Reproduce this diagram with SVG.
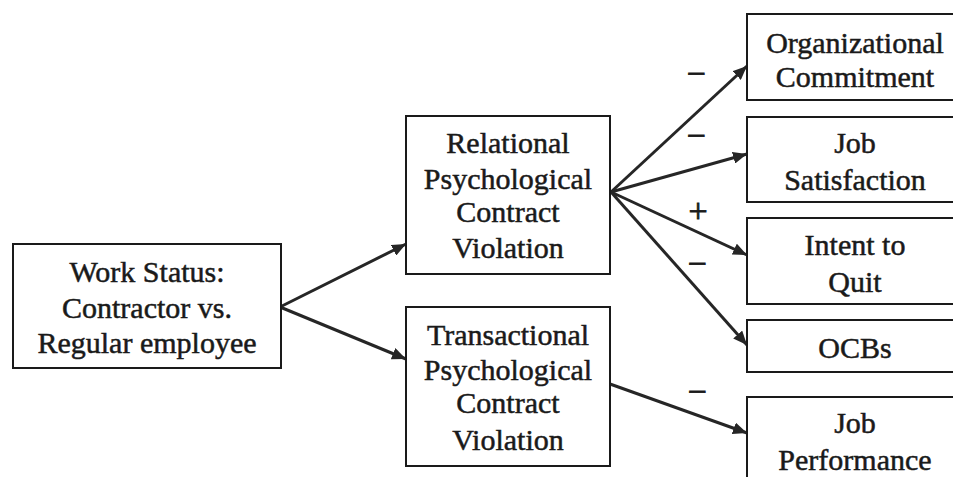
<svg xmlns="http://www.w3.org/2000/svg" width="953" height="477" viewBox="0 0 953 477">
  <style>
    .box { fill: #ffffff; stroke: #1a1a1a; stroke-width: 2; }
    .lbl { font-family: "Liberation Serif", "Times New Roman", serif; font-size: 30px; fill: #1a1a1a; stroke: #1a1a1a; stroke-width: 0.5; text-anchor: middle; }
    .sign { font-family: "Liberation Serif", "Times New Roman", serif; font-size: 34px; fill: #1a1a1a; stroke: #1a1a1a; stroke-width: 0.8; text-anchor: middle; }
    .link { fill: none; stroke: #262626; stroke-width: 3; marker-end: url(#arrow); }
  </style>
  <defs>
    <marker id="arrow" markerUnits="userSpaceOnUse" markerWidth="16" markerHeight="12" refX="14" refY="6" orient="auto">
      <path d="M0,0 L14,6 L0,12 Z" fill="#262626"/>
    </marker>
  </defs>

  <rect width="953" height="477" fill="#ffffff"/>

  <g id="connectors">
    <line class="link" x1="280" y1="307" x2="406" y2="244"/>
    <line class="link" x1="280" y1="307" x2="406" y2="359"/>
    <line class="link" x1="611" y1="192" x2="747" y2="66"/>
    <line class="link" x1="611" y1="192" x2="747" y2="154"/>
    <line class="link" x1="611" y1="192" x2="747" y2="255"/>
    <line class="link" x1="611" y1="192" x2="747" y2="345"/>
    <line class="link" x1="610" y1="384" x2="747" y2="433"/>
    <text class="sign" x="696" y="85">−</text>
    <text class="sign" x="696" y="147">−</text>
    <text class="sign" x="698" y="222">+</text>
    <text class="sign" x="697" y="275">−</text>
    <text class="sign" x="697" y="403">−</text>
  </g>

  <g id="work-status">
    <rect class="box" x="13" y="244" width="268" height="124"/>
    <text class="lbl" x="147" y="282">Work Status:</text>
    <text class="lbl" x="147" y="318">Contractor vs.</text>
    <text class="lbl" x="147" y="353">Regular employee</text>
  </g>

  <g id="relational">
    <rect class="box" x="406" y="116" width="204" height="158"/>
    <text class="lbl" x="508" y="153">Relational</text>
    <text class="lbl" x="508" y="189">Psychological</text>
    <text class="lbl" x="508" y="222">Contract</text>
    <text class="lbl" x="508" y="258">Violation</text>
  </g>

  <g id="transactional">
    <rect class="box" x="406" y="307" width="204" height="159"/>
    <text class="lbl" x="508" y="345">Transactional</text>
    <text class="lbl" x="508" y="380">Psychological</text>
    <text class="lbl" x="508" y="413">Contract</text>
    <text class="lbl" x="508" y="450">Violation</text>
  </g>

  <g id="commitment">
    <rect class="box" x="747" y="14" width="220" height="86"/>
    <text class="lbl" x="855" y="53">Organizational</text>
    <text class="lbl" x="855" y="87">Commitment</text>
  </g>

  <g id="satisfaction">
    <rect class="box" x="747" y="117" width="220" height="85"/>
    <text class="lbl" x="855" y="153">Job</text>
    <text class="lbl" x="855" y="190">Satisfaction</text>
  </g>

  <g id="intent-to-quit">
    <rect class="box" x="747" y="218" width="220" height="86"/>
    <text class="lbl" x="855" y="255">Intent to</text>
    <text class="lbl" x="855" y="292">Quit</text>
  </g>

  <g id="ocbs">
    <rect class="box" x="747" y="320" width="220" height="52"/>
    <text class="lbl" x="855" y="358">OCBs</text>
  </g>

  <g id="performance">
    <rect class="box" x="747" y="397" width="220" height="100"/>
    <text class="lbl" x="855" y="433">Job</text>
    <text class="lbl" x="855" y="470">Performance</text>
  </g>
</svg>
